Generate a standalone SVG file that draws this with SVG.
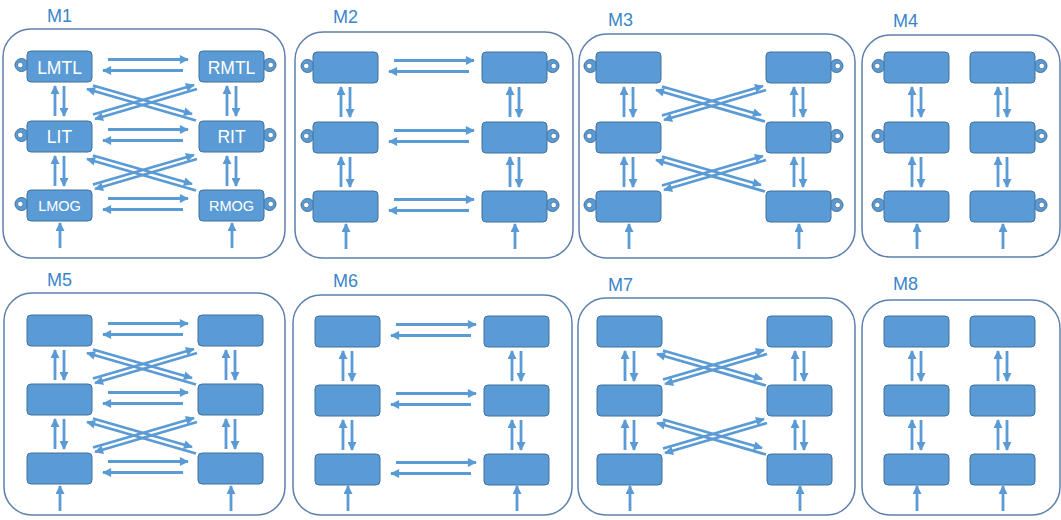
<svg xmlns="http://www.w3.org/2000/svg" xmlns:xlink="http://www.w3.org/1999/xlink" width="1061" height="520" viewBox="0 0 1061 520">
  <style>
    .panel { fill: #ffffff; stroke: #5d80ad; stroke-width: 1.5; }
    .title { font-family: "Liberation Sans", Arial, sans-serif; font-size: 18px; fill: #3a86c8; }
    .node { fill: #5b9bd5; stroke: #41719c; stroke-width: 1; }
    .handle { fill: #5b9bd5; stroke: #41719c; stroke-width: 1; }
    .hole { fill: #ffffff; stroke: #41719c; stroke-width: 0.8; }
    .lbl { font-family: "Liberation Sans", Arial, sans-serif; font-size: 17.5px; fill: #ffffff; text-anchor: middle; }
    .lbl-s { font-size: 14.5px; }
    .arr { stroke: #5b9bd5; stroke-width: 2.8; fill: none; marker-end: url(#head); }
  </style>
  <defs>
    <marker id="head" markerUnits="userSpaceOnUse" viewBox="0 0 10 10" markerWidth="10" markerHeight="9" refX="9" refY="5" orient="auto">
      <path d="M0,0 L10,5 L0,10 z" fill="#5b9bd5"/>
    </marker>
    <!-- pair of opposite horizontal arrows between the two columns of one row -->
    <g id="h-pair">
      <line class="arr" x1="81" y1="8.5" x2="161" y2="8.5"/>
      <line class="arr" x1="156" y1="19.5" x2="76" y2="19.5"/>
    </g>
    <!-- crossed diagonal arrows between two consecutive rows -->
    <g id="x-cross">
      <line class="arr" x1="66" y1="34.5" x2="165" y2="63"/>
      <line class="arr" x1="169" y1="69.5" x2="60" y2="38"/>
      <line class="arr" x1="66" y1="63.5" x2="167" y2="34"/>
      <line class="arr" x1="170" y1="38" x2="68" y2="68"/>
    </g>
    <!-- up/down arrows between stacked nodes of one column -->
    <g id="v-pair">
      <line class="arr" x1="28" y1="65" x2="28" y2="35"/>
      <line class="arr" x1="37" y1="35" x2="37" y2="65"/>
    </g>
    <!-- input arrow entering the bottom node -->
    <g id="in-arrow">
      <line class="arr" x1="33" y1="197" x2="33" y2="172"/>
    </g>
    <!-- ring handle on the outer side of top-row nodes -->
    <g id="ring">
      <circle class="handle" cx="0" cy="0" r="6.5"/>
      <circle class="hole" cx="-1.2" cy="0" r="2.8"/>
    </g>
  </defs>

  <!-- panels -->
  <g id="panel-m1"><rect class="panel" x="3" y="29" width="282" height="229" rx="28"/><text class="title" x="47" y="22">M1</text></g>
  <g id="panel-m2"><rect class="panel" x="295" y="32" width="278" height="226" rx="28"/><text class="title" x="333" y="23">M2</text></g>
  <g id="panel-m3"><rect class="panel" x="579" y="34" width="276" height="224" rx="28"/><text class="title" x="608" y="26">M3</text></g>
  <g id="panel-m4"><rect class="panel" x="862" y="35" width="198" height="222" rx="28"/><text class="title" x="893" y="27">M4</text></g>
  <g id="panel-m5"><rect class="panel" x="4" y="293" width="281" height="222" rx="28"/><text class="title" x="47" y="286">M5</text></g>
  <g id="panel-m6"><rect class="panel" x="293" y="295" width="279" height="220" rx="28"/><text class="title" x="333" y="287">M6</text></g>
  <g id="panel-m7"><rect class="panel" x="578" y="298" width="277" height="217" rx="28"/><text class="title" x="608" y="291">M7</text></g>
  <g id="panel-m8"><rect class="panel" x="862" y="300" width="198" height="215" rx="28"/><text class="title" x="893" y="290">M8</text></g>

  <!-- connectors -->
  <g id="connectors">
    <g id="conn-m1" transform="translate(27,51)">
      <use xlink:href="#h-pair"/><use xlink:href="#h-pair" y="70"/><use xlink:href="#h-pair" y="139"/>
      <use xlink:href="#x-cross"/><use xlink:href="#x-cross" y="70"/>
      <use xlink:href="#v-pair"/><use xlink:href="#v-pair" y="70"/>
      <use xlink:href="#v-pair" x="172"/><use xlink:href="#v-pair" x="172" y="70"/>
      <use xlink:href="#in-arrow"/><use xlink:href="#in-arrow" x="172"/>
    </g>
    <g id="conn-m2" transform="translate(313,52)">
      <use xlink:href="#h-pair"/><use xlink:href="#h-pair" y="70"/><use xlink:href="#h-pair" y="139"/>
      <use xlink:href="#v-pair"/><use xlink:href="#v-pair" y="70"/>
      <use xlink:href="#v-pair" x="169"/><use xlink:href="#v-pair" x="169" y="70"/>
      <use xlink:href="#in-arrow"/><use xlink:href="#in-arrow" x="169"/>
    </g>
    <g id="conn-m3" transform="translate(596,52)">
      <use xlink:href="#x-cross"/><use xlink:href="#x-cross" y="70"/>
      <use xlink:href="#v-pair"/><use xlink:href="#v-pair" y="70"/>
      <use xlink:href="#v-pair" x="170"/><use xlink:href="#v-pair" x="170" y="70"/>
      <use xlink:href="#in-arrow"/><use xlink:href="#in-arrow" x="170"/>
    </g>
    <g id="conn-m4" transform="translate(884,52)">
      <use xlink:href="#v-pair"/><use xlink:href="#v-pair" y="70"/>
      <use xlink:href="#v-pair" x="86"/><use xlink:href="#v-pair" x="86" y="70"/>
      <use xlink:href="#in-arrow"/><use xlink:href="#in-arrow" x="86"/>
    </g>
    <g id="conn-m5" transform="translate(27,315)">
      <use xlink:href="#h-pair"/><use xlink:href="#h-pair" y="69"/><use xlink:href="#h-pair" y="138"/>
      <use xlink:href="#x-cross"/><use xlink:href="#x-cross" y="69"/>
      <use xlink:href="#v-pair"/><use xlink:href="#v-pair" y="69"/>
      <use xlink:href="#v-pair" x="171"/><use xlink:href="#v-pair" x="171" y="69"/>
      <use xlink:href="#in-arrow" y="-1"/><use xlink:href="#in-arrow" x="171" y="-1"/>
    </g>
    <g id="conn-m6" transform="translate(315,316)">
      <use xlink:href="#h-pair"/><use xlink:href="#h-pair" y="69"/><use xlink:href="#h-pair" y="138"/>
      <use xlink:href="#v-pair"/><use xlink:href="#v-pair" y="69"/>
      <use xlink:href="#v-pair" x="169"/><use xlink:href="#v-pair" x="169" y="69"/>
      <use xlink:href="#in-arrow" y="-2"/><use xlink:href="#in-arrow" x="169" y="-2"/>
    </g>
    <g id="conn-m7" transform="translate(597,316)">
      <use xlink:href="#x-cross"/><use xlink:href="#x-cross" y="69"/>
      <use xlink:href="#v-pair"/><use xlink:href="#v-pair" y="69"/>
      <use xlink:href="#v-pair" x="170"/><use xlink:href="#v-pair" x="170" y="69"/>
      <use xlink:href="#in-arrow" y="-2"/><use xlink:href="#in-arrow" x="170" y="-2"/>
    </g>
    <g id="conn-m8" transform="translate(884,316)">
      <use xlink:href="#v-pair"/><use xlink:href="#v-pair" y="69"/>
      <use xlink:href="#v-pair" x="86"/><use xlink:href="#v-pair" x="86" y="69"/>
      <use xlink:href="#in-arrow" y="-2"/><use xlink:href="#in-arrow" x="86" y="-2"/>
    </g>
  </g>

  <!-- M1 nodes -->
  <g id="m1-lmtl"><use xlink:href="#ring" x="21.5" y="65"/><rect class="node" x="27" y="51" width="65" height="31" rx="4"/><text class="lbl" x="59.5" y="74">LMTL</text></g>
  <g id="m1-lit"><use xlink:href="#ring" x="21.5" y="135"/><rect class="node" x="27" y="121" width="65" height="31" rx="4"/><text class="lbl" x="59.5" y="143">LIT</text></g>
  <g id="m1-lmog"><use xlink:href="#ring" x="21.5" y="204"/><rect class="node" x="27" y="190" width="65" height="31" rx="4"/><text class="lbl lbl-s" x="59.5" y="211">LMOG</text></g>
  <g id="m1-rmtl"><use xlink:href="#ring" x="269.5" y="65" transform="translate(539,0) scale(-1,1)"/><rect class="node" x="199" y="51" width="65" height="31" rx="4"/><text class="lbl" x="231.5" y="74">RMTL</text></g>
  <g id="m1-rit"><use xlink:href="#ring" x="269.5" y="135" transform="translate(539,0) scale(-1,1)"/><rect class="node" x="199" y="121" width="65" height="31" rx="4"/><text class="lbl" x="231.5" y="143">RIT</text></g>
  <g id="m1-rmog"><use xlink:href="#ring" x="269.5" y="204" transform="translate(539,0) scale(-1,1)"/><rect class="node" x="199" y="190" width="65" height="31" rx="4"/><text class="lbl lbl-s" x="231.5" y="211">RMOG</text></g>

  <!-- M2 nodes -->
  <g id="m2-l1"><use xlink:href="#ring" x="307.5" y="66"/><rect class="node" x="313" y="52" width="65" height="31" rx="4"/></g>
  <g id="m2-l2"><use xlink:href="#ring" x="307.5" y="136"/><rect class="node" x="313" y="122" width="65" height="31" rx="4"/></g>
  <g id="m2-l3"><use xlink:href="#ring" x="307.5" y="205"/><rect class="node" x="313" y="191" width="65" height="31" rx="4"/></g>
  <g id="m2-r1"><use xlink:href="#ring" x="552.5" y="66" transform="translate(1105,0) scale(-1,1)"/><rect class="node" x="482" y="52" width="65" height="31" rx="4"/></g>
  <g id="m2-r2"><use xlink:href="#ring" x="552.5" y="136" transform="translate(1105,0) scale(-1,1)"/><rect class="node" x="482" y="122" width="65" height="31" rx="4"/></g>
  <g id="m2-r3"><use xlink:href="#ring" x="552.5" y="205" transform="translate(1105,0) scale(-1,1)"/><rect class="node" x="482" y="191" width="65" height="31" rx="4"/></g>

  <!-- M3 nodes -->
  <g id="m3-l1"><use xlink:href="#ring" x="590.5" y="66"/><rect class="node" x="596" y="52" width="65" height="31" rx="4"/></g>
  <g id="m3-l2"><use xlink:href="#ring" x="590.5" y="136"/><rect class="node" x="596" y="122" width="65" height="31" rx="4"/></g>
  <g id="m3-l3"><use xlink:href="#ring" x="590.5" y="205"/><rect class="node" x="596" y="191" width="65" height="31" rx="4"/></g>
  <g id="m3-r1"><use xlink:href="#ring" x="836.5" y="66" transform="translate(1673,0) scale(-1,1)"/><rect class="node" x="766" y="52" width="65" height="31" rx="4"/></g>
  <g id="m3-r2"><use xlink:href="#ring" x="836.5" y="136" transform="translate(1673,0) scale(-1,1)"/><rect class="node" x="766" y="122" width="65" height="31" rx="4"/></g>
  <g id="m3-r3"><use xlink:href="#ring" x="836.5" y="205" transform="translate(1673,0) scale(-1,1)"/><rect class="node" x="766" y="191" width="65" height="31" rx="4"/></g>

  <!-- M4 nodes -->
  <g id="m4-l1"><use xlink:href="#ring" x="878.5" y="66"/><rect class="node" x="884" y="52" width="65" height="31" rx="4"/></g>
  <g id="m4-l2"><use xlink:href="#ring" x="878.5" y="136"/><rect class="node" x="884" y="122" width="65" height="31" rx="4"/></g>
  <g id="m4-l3"><use xlink:href="#ring" x="878.5" y="205"/><rect class="node" x="884" y="191" width="65" height="31" rx="4"/></g>
  <g id="m4-r1"><use xlink:href="#ring" x="1040.5" y="66" transform="translate(2081,0) scale(-1,1)"/><rect class="node" x="970" y="52" width="65" height="31" rx="4"/></g>
  <g id="m4-r2"><use xlink:href="#ring" x="1040.5" y="136" transform="translate(2081,0) scale(-1,1)"/><rect class="node" x="970" y="122" width="65" height="31" rx="4"/></g>
  <g id="m4-r3"><use xlink:href="#ring" x="1040.5" y="205" transform="translate(2081,0) scale(-1,1)"/><rect class="node" x="970" y="191" width="65" height="31" rx="4"/></g>

  <!-- M5 nodes -->
  <g id="m5-l1"><rect class="node" x="27" y="315" width="65" height="31" rx="4"/></g>
  <g id="m5-l2"><rect class="node" x="27" y="384" width="65" height="31" rx="4"/></g>
  <g id="m5-l3"><rect class="node" x="27" y="453" width="65" height="31" rx="4"/></g>
  <g id="m5-r1"><rect class="node" x="198" y="315" width="65" height="31" rx="4"/></g>
  <g id="m5-r2"><rect class="node" x="198" y="384" width="65" height="31" rx="4"/></g>
  <g id="m5-r3"><rect class="node" x="198" y="453" width="65" height="31" rx="4"/></g>

  <!-- M6 nodes -->
  <g id="m6-l1"><rect class="node" x="315" y="316" width="65" height="31" rx="4"/></g>
  <g id="m6-l2"><rect class="node" x="315" y="385" width="65" height="31" rx="4"/></g>
  <g id="m6-l3"><rect class="node" x="315" y="454" width="65" height="31" rx="4"/></g>
  <g id="m6-r1"><rect class="node" x="484" y="316" width="65" height="31" rx="4"/></g>
  <g id="m6-r2"><rect class="node" x="484" y="385" width="65" height="31" rx="4"/></g>
  <g id="m6-r3"><rect class="node" x="484" y="454" width="65" height="31" rx="4"/></g>

  <!-- M7 nodes -->
  <g id="m7-l1"><rect class="node" x="597" y="316" width="65" height="31" rx="4"/></g>
  <g id="m7-l2"><rect class="node" x="597" y="385" width="65" height="31" rx="4"/></g>
  <g id="m7-l3"><rect class="node" x="597" y="454" width="65" height="31" rx="4"/></g>
  <g id="m7-r1"><rect class="node" x="767" y="316" width="65" height="31" rx="4"/></g>
  <g id="m7-r2"><rect class="node" x="767" y="385" width="65" height="31" rx="4"/></g>
  <g id="m7-r3"><rect class="node" x="767" y="454" width="65" height="31" rx="4"/></g>

  <!-- M8 nodes -->
  <g id="m8-l1"><rect class="node" x="884" y="316" width="65" height="31" rx="4"/></g>
  <g id="m8-l2"><rect class="node" x="884" y="385" width="65" height="31" rx="4"/></g>
  <g id="m8-l3"><rect class="node" x="884" y="454" width="65" height="31" rx="4"/></g>
  <g id="m8-r1"><rect class="node" x="970" y="316" width="65" height="31" rx="4"/></g>
  <g id="m8-r2"><rect class="node" x="970" y="385" width="65" height="31" rx="4"/></g>
  <g id="m8-r3"><rect class="node" x="970" y="454" width="65" height="31" rx="4"/></g>
</svg>
